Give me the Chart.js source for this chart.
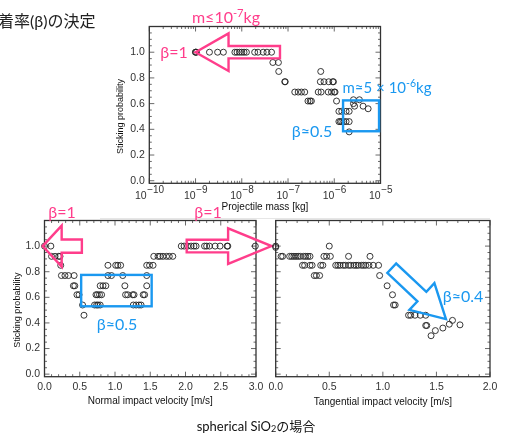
<!DOCTYPE html>
<html>
<head>
<meta charset="utf-8">
<script src="https://cdn.jsdelivr.net/npm/chart.js@4.4.0/dist/chart.umd.min.js"></script>
<style>
  html, body { margin: 0; padding: 0; background: #fff; }
  #page { position: relative; width: 506px; height: 435px; overflow: hidden; }
  canvas { position: absolute; left: 0; top: 0; }
  .t { position: absolute; white-space: nowrap; line-height: 1; font-family: Lato, "Noto Sans CJK JP", sans-serif; transform: translate(-50%, -50%); }
  .pink { color: #ff3d8b; font-size: 16px; }
  .blue { color: #1a98f0; font-size: 16px; }
  sup { font-size: 0.7em; vertical-align: 0.5em; line-height: 0; }
  sub { font-size: 0.7em; vertical-align: -0.2em; line-height: 0; }
  #title { position: absolute; left: -2px; top: 13px; font-size: 16px; line-height: 1; color: #222; font-family: Lato, "Noto Sans CJK JP", sans-serif; white-space: nowrap; }
  #rule { position: absolute; left: 100px; top: 218px; width: 390px; height: 1px; background: #e6e6e6; }
</style>
</head>
<body>
<div id="page">
  <div id="rule"></div>
  <canvas id="massChart" width="506" height="435"></canvas>
  <canvas id="normalChart" width="506" height="435"></canvas>
  <canvas id="tangChart" width="506" height="435"></canvas>

  <div id="title">着率(β)の決定</div>
  <div class="t pink" style="left:226px; top:17px;">m≤10<sup>-7</sup>kg</div>
  <div class="t pink" style="left:174px; top:52px;">β=1</div>
  <div class="t blue" style="left:387px; top:87px; font-size:15px;">m≈5 × 10<sup>-6</sup>kg</div>
  <div class="t blue" style="left:312px; top:131px;">β≈0.5</div>
  <div class="t pink" style="left:62px; top:212px;">β=1</div>
  <div class="t pink" style="left:208px; top:212px;">β=1</div>
  <div class="t blue" style="left:117px; top:324px;">β≈0.5</div>
  <div class="t blue" style="left:463px; top:296px;">β≈0.4</div>
  <div class="t" style="left:256px; top:426px; font-size:13px; color:#111;">spherical SiO<sub>2</sub>の場合</div>
</div>

<script>
// Sticking probability vs projectile mass [kg]
const massPoints = [
  [1.0e-9, 1.0], [1.0e-9, 1.0], [1.05e-9, 1.0], [2.0e-9, 1.0], [3.0e-9, 1.0], [4.0e-9, 1.0],
  [7.1e-9, 1.0], [7.9e-9, 1.0], [8.9e-9, 1.0], [1.0e-8, 1.0], [1.12e-8, 1.0], [1.26e-8, 1.0],
  [1.9e-8, 1.0], [2.24e-8, 1.0], [2.9e-8, 1.0], [3.5e-8, 1.0], [4.4e-8, 1.0],
  [4.7e-8, 0.92], [6.2e-8, 0.92],
  [6.3e-8, 0.85], [5.1e-7, 0.85],
  [8.5e-8, 0.77], [8.7e-8, 0.77], [5.0e-7, 0.77], [6.0e-7, 0.77], [7.6e-7, 0.77], [9.3e-7, 0.77], [9.6e-7, 0.77],
  [1.4e-7, 0.69], [1.66e-7, 0.69], [1.95e-7, 0.69], [2.3e-7, 0.69], [4.5e-7, 0.69], [5.2e-7, 0.69],
  [7.4e-7, 0.69], [8.7e-7, 0.69], [1.0e-6, 0.69], [1.04e-6, 0.69],
  [2.7e-7, 0.62], [3.0e-7, 0.62], [3.2e-7, 0.62], [1.12e-6, 0.62],
  [1.26e-6, 0.54], [1.45e-6, 0.54], [1.8e-6, 0.54], [2.1e-6, 0.54],
  [1.26e-6, 0.46], [1.35e-6, 0.46], [1.45e-6, 0.46], [1.6e-6, 0.46], [1.8e-6, 0.46], [2.1e-6, 0.46],
  [2.1e-6, 0.38],
  [2.6e-6, 0.63], [3.5e-6, 0.63], [2.6e-6, 0.60], [2.75e-6, 0.58], [4.2e-6, 0.58], [5.4e-6, 0.56]
];

// Sticking probability vs normal impact velocity [m/s]
const normalPoints = [
  [0.0, 1.0], [0.09, 1.0],
  [0.10, 0.92], [0.15, 0.92], [0.20, 0.92], [0.22, 0.92],
  [0.23, 0.85],
  [0.24, 0.77], [0.29, 0.77], [0.34, 0.77], [0.42, 0.77],
  [0.41, 0.69], [0.43, 0.69],
  [0.46, 0.62], [0.49, 0.62],
  [0.54, 0.54], [0.56, 0.46],
  [0.71, 0.54], [0.74, 0.54], [0.76, 0.54], [0.79, 0.54],
  [0.73, 0.62], [0.75, 0.62], [0.78, 0.62], [0.81, 0.62],
  [0.79, 0.69], [0.83, 0.69], [0.87, 0.69],
  [0.90, 0.77], [0.95, 0.77], [0.90, 0.85],
  [1.01, 0.85], [1.04, 0.85], [1.08, 0.85],
  [1.11, 0.77], [1.14, 0.69], [1.15, 0.62], [1.18, 0.62],
  [1.25, 0.62], [1.27, 0.62], [1.26, 0.54], [1.30, 0.54], [1.34, 0.54], [1.37, 0.54],
  [1.40, 0.62], [1.42, 0.62], [1.45, 0.69], [1.45, 0.77],
  [1.45, 0.85], [1.49, 0.85], [1.54, 0.85],
  [1.55, 0.92], [1.61, 0.92], [1.64, 0.92], [1.68, 0.92], [1.73, 0.92], [1.77, 0.92], [1.82, 0.92],
  [1.94, 1.0], [1.98, 1.0], [2.03, 1.0], [2.08, 1.0], [2.12, 1.0], [2.15, 1.0], [2.27, 1.0],
  [2.30, 1.0], [2.34, 1.0], [2.42, 1.0], [2.49, 1.0], [2.59, 1.0], [2.60, 1.0], [2.99, 1.0]
];

// Sticking probability vs tangential impact velocity [m/s]
const tangPoints = [
  [0.0, 1.0], [0.0, 0.99], [0.50, 1.0],
  [0.05, 0.92], [0.065, 0.92], [0.13, 0.92], [0.15, 0.92], [0.17, 0.92], [0.19, 0.92], [0.21, 0.92],
  [0.23, 0.92], [0.26, 0.92], [0.28, 0.92], [0.30, 0.92], [0.32, 0.92], [0.45, 0.92], [0.475, 0.92],
  [0.51, 0.92], [0.68, 0.92], [0.88, 0.92],
  [0.25, 0.85], [0.27, 0.85], [0.32, 0.85], [0.34, 0.85], [0.42, 0.85], [0.44, 0.85],
  [0.56, 0.85], [0.58, 0.85], [0.60, 0.85], [0.63, 0.85], [0.65, 0.85], [0.68, 0.85], [0.70, 0.85],
  [0.73, 0.85], [0.75, 0.85], [0.77, 0.85], [0.80, 0.85], [0.82, 0.85], [0.84, 0.85], [0.87, 0.85],
  [0.91, 0.85], [0.96, 0.85],
  [0.36, 0.77], [0.38, 0.77], [0.41, 0.77], [0.97, 0.77],
  [1.04, 0.69], [1.09, 0.62], [1.10, 0.54], [1.115, 0.54],
  [1.24, 0.46], [1.26, 0.46], [1.30, 0.46], [1.35, 0.46], [1.40, 0.46],
  [1.40, 0.38], [1.41, 0.38],
  [1.45, 0.30], [1.49, 0.34], [1.56, 0.36], [1.62, 0.39], [1.65, 0.42], [1.72, 0.385]
];

// axis ticks
const yTicks = [0.0, 0.2, 0.4, 0.6, 0.8, 1.0];
const yMinor = [0.05, 0.1, 0.15, 0.25, 0.3, 0.35, 0.45, 0.5, 0.55, 0.65, 0.7, 0.75, 0.85, 0.9, 0.95, 1.05, 1.1, 1.15];
const massTicks = [1e-10, 1e-9, 1e-8, 1e-7, 1e-6, 1e-5];
const massExp = ['−10', '−9', '−8', '−7', '−6', '−5'];
const normalTicks = [0.0, 0.5, 1.0, 1.5, 2.0, 2.5, 3.0];
const tangTicks = [0.0, 0.5, 1.0, 1.5, 2.0];

const PINK = '#ff3d8b';
const BLUE = '#1a98f0';
const AXIS_FONT = 'Liberation Sans';

function minorLinear(major, step) {
  const out = [];
  for (let v = major[0]; v < major[major.length - 1] - 1e-9; v += step) {
    if (!major.some(m => Math.abs(m - v) < 1e-6)) out.push(v);
  }
  return out;
}
function minorLog(major) {
  const out = [];
  for (let i = 0; i < major.length - 1; i++) {
    for (let k = 2; k <= 9; k++) out.push(major[i] * k);
  }
  return out;
}

function hollowArrow(ctx, tx, ty, hx, hy, sh, hh, hl) {
  const dx = hx - tx, dy = hy - ty, L = Math.hypot(dx, dy);
  const ux = dx / L, uy = dy / L, nx = -uy, ny = ux;
  const bx = hx - ux * hl, by = hy - uy * hl;
  ctx.beginPath();
  ctx.moveTo(tx + nx * sh, ty + ny * sh);
  ctx.lineTo(bx + nx * sh, by + ny * sh);
  ctx.lineTo(bx + nx * hh, by + ny * hh);
  ctx.lineTo(hx, hy);
  ctx.lineTo(bx - nx * hh, by - ny * hh);
  ctx.lineTo(bx - nx * sh, by - ny * sh);
  ctx.lineTo(tx - nx * sh, ty - ny * sh);
  ctx.closePath();
  ctx.stroke();
}

function box(ctx, x, y, x0, x1, y0, y1) {
  const l = x.getPixelForValue(x0), r = x.getPixelForValue(x1);
  const t = y.getPixelForValue(y1), b = y.getPixelForValue(y0);
  ctx.strokeRect(l, t, r - l, b - t);
}

function drawFrame(chart, spec) {
  const ctx = chart.ctx, a = chart.chartArea, x = chart.scales.x, y = chart.scales.y;
  ctx.save();
  ctx.strokeStyle = '#444';
  ctx.lineWidth = 0.8;
  ctx.beginPath();
  const tx = (vals, len) => vals.forEach(v => {
    const p = x.getPixelForValue(v);
    ctx.moveTo(p, a.bottom); ctx.lineTo(p, a.bottom - len);
    ctx.moveTo(p, a.top); ctx.lineTo(p, a.top + len);
  });
  const ty = (vals, len) => vals.forEach(v => {
    const p = y.getPixelForValue(v);
    ctx.moveTo(a.left, p); ctx.lineTo(a.left + len, p);
    ctx.moveTo(a.right, p); ctx.lineTo(a.right - len, p);
  });
  tx(spec.xMajor, 5); tx(spec.xMinor, 2.5);
  ty(yTicks, 5); ty(yMinor, 2.5);
  ctx.stroke();
  ctx.strokeStyle = '#333';
  ctx.lineWidth = 1.3;
  ctx.strokeRect(a.left, a.top, a.right - a.left, a.bottom - a.top);

  // y title, centred on the 0..1 range
  ctx.fillStyle = '#111';
  ctx.font = '9px ' + AXIS_FONT;
  ctx.textAlign = 'center';
  ctx.textBaseline = 'middle';
  ctx.translate(a.left - spec.yTitleOff, (y.getPixelForValue(0) + y.getPixelForValue(1)) / 2);
  ctx.rotate(-Math.PI / 2);
  ctx.fillText('Sticking probability', 0, 0);
  ctx.restore();

  // log-axis labels with raised exponents
  if (spec.expLabels) {
    ctx.save();
    ctx.fillStyle = '#333';
    ctx.textAlign = 'left';
    ctx.textBaseline = 'alphabetic';
    spec.xMajor.forEach((v, i) => {
      ctx.font = '10.5px ' + AXIS_FONT;
      const w10 = ctx.measureText('10').width;
      ctx.font = '10px ' + AXIS_FONT;
      const we = ctx.measureText(spec.expLabels[i]).width;
      const s = x.getPixelForValue(v) - (w10 + we) / 2;
      ctx.font = '10.5px ' + AXIS_FONT;
      ctx.fillText('10', s, a.bottom + 15.5);
      ctx.font = '10px ' + AXIS_FONT;
      ctx.fillText(spec.expLabels[i], s + w10 + 0.5, a.bottom + 9.5);
    });
    ctx.restore();
  }
}

function makeChart(id, spec) {
  const framePlugin = {
    id: 'idlFrame',
    beforeDatasetsDraw(chart) { drawFrame(chart, spec); },
    afterDatasetsDraw(chart) {
      const ctx = chart.ctx;
      ctx.save();
      ctx.lineWidth = 2.4;
      ctx.lineJoin = 'miter';
      spec.annotate(ctx, chart.scales.x, chart.scales.y);
      ctx.restore();
    }
  };
  const a = spec.area;
  return new Chart(document.getElementById(id), {
    type: 'scatter',
    data: {
      datasets: [{
        data: spec.points.map(p => ({ x: p[0], y: p[1] })),
        pointRadius: 3,
        pointHoverRadius: 3,
        pointBorderWidth: 0.9,
        pointBorderColor: '#222',
        pointBackgroundColor: 'rgba(0,0,0,0)',
        clip: false
      }]
    },
    options: {
      responsive: false,
      animation: false,
      devicePixelRatio: 1,
      events: [],
      layout: { padding: { left: a.l - spec.yWidth, top: a.t, right: 506 - a.r, bottom: 435 - a.b - 32 } },
      plugins: { legend: { display: false }, tooltip: { enabled: false } },
      scales: {
        x: {
          type: spec.xType,
          min: spec.xMin,
          max: spec.xMax,
          grid: { display: false, drawTicks: false },
          border: { display: false },
          ticks: {
            display: !spec.expLabels,
            padding: 4,
            color: '#333',
            font: { family: AXIS_FONT, size: 10.5 },
            maxRotation: 0,
            autoSkip: false,
            callback: v => Number(v).toFixed(1)
          },
          afterBuildTicks: s => { s.ticks = spec.xMajor.map(v => ({ value: v })); },
          afterFit: s => { s.height = 32; },
          title: {
            display: true,
            text: spec.xTitle,
            color: '#111',
            font: { family: AXIS_FONT, size: 10 },
            padding: { top: 0, bottom: spec.xTitlePad }
          }
        },
        y: {
          min: -0.02,
          max: 1.2,
          grid: { display: false, drawTicks: false },
          border: { display: false },
          ticks: {
            display: spec.yLabels,
            padding: 4.5,
            color: '#333',
            font: { family: AXIS_FONT, size: 10.5 },
            callback: v => Number(v).toFixed(1)
          },
          afterBuildTicks: s => { s.ticks = yTicks.map(v => ({ value: v })); },
          afterFit: s => { s.width = spec.yWidth; }
        }
      }
    },
    plugins: [framePlugin]
  });
}

makeChart('massChart', {
  points: massPoints,
  area: { l: 149.3, t: 26.5, r: 380.5, b: 183.3 },
  xType: 'logarithmic', xMin: 1e-10, xMax: 1e-5,
  xMajor: massTicks, xMinor: minorLog(massTicks), expLabels: massExp,
  xTitle: 'Projectile mass [kg]', xTitlePad: 2,
  yLabels: true, yWidth: 40, yTitleOff: 28.5,
  annotate(ctx, x, y) {
    ctx.strokeStyle = PINK;
    hollowArrow(ctx, x.getPixelForValue(6.7e-8), y.getPixelForValue(1.0),
      x.getPixelForValue(1e-9), y.getPixelForValue(1.0), 6.2, 18.8, 33);
    ctx.strokeStyle = BLUE;
    box(ctx, x, y, 1.55e-6, 9.3e-6, 0.385, 0.625);
  }
});

makeChart('normalChart', {
  points: normalPoints,
  area: { l: 44.5, t: 220.5, r: 256, b: 376.7 },
  xType: 'linear', xMin: 0, xMax: 3,
  xMajor: normalTicks, xMinor: minorLinear(normalTicks, 0.1),
  xTitle: 'Normal impact velocity [m/s]', xTitlePad: 1,
  yLabels: true, yWidth: 40, yTitleOff: 26.5,
  annotate(ctx, x, y) {
    ctx.strokeStyle = PINK;
    hollowArrow(ctx, x.getPixelForValue(0.53), y.getPixelForValue(1.0),
      x.getPixelForValue(-0.026), y.getPixelForValue(1.0), 6.6, 20.5, 19);
    hollowArrow(ctx, x.getPixelForValue(2.017), y.getPixelForValue(1.0),
      x.getPixelForValue(3.22), y.getPixelForValue(1.0), 6.3, 17.8, 43.4);
    ctx.strokeStyle = BLUE;
    box(ctx, x, y, 0.52, 1.52, 0.53, 0.775);
  }
});

makeChart('tangChart', {
  points: tangPoints,
  area: { l: 275.7, t: 220.5, r: 490, b: 376.7 },
  xType: 'linear', xMin: 0, xMax: 2,
  xMajor: tangTicks, xMinor: minorLinear(tangTicks, 0.1),
  xTitle: 'Tangential impact velocity [m/s]', xTitlePad: 0,
  yLabels: false, yWidth: 10, yTitleOff: -1000,
  annotate(ctx, x, y) {
    ctx.strokeStyle = BLUE;
    hollowArrow(ctx, x.getPixelForValue(1.083), y.getPixelForValue(0.827),
      x.getPixelForValue(1.589), y.getPixelForValue(0.43), 6.5, 18.3, 33);
  }
});
</script>
</body>
</html>
